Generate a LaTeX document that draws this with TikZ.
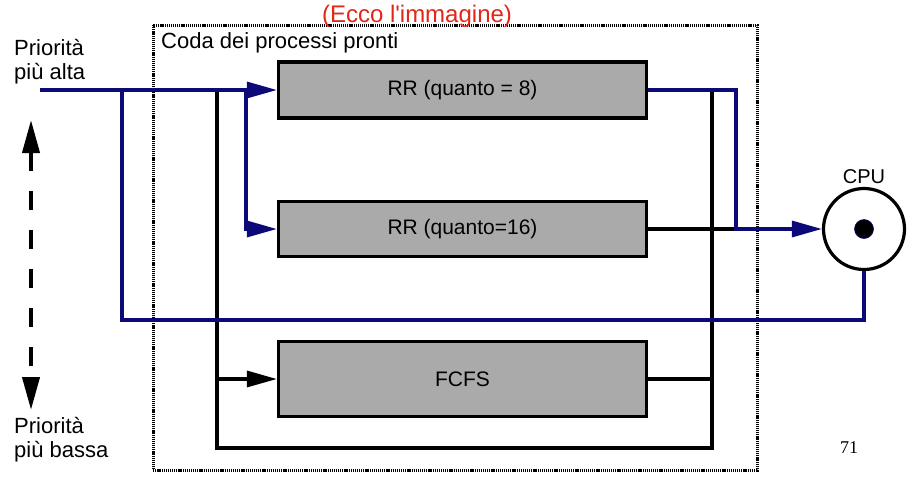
\documentclass[tikz,border=0pt]{standalone}
\usepackage{fontspec}
\setmainfont{Liberation Serif}
\setsansfont{Liberation Sans}
\usetikzlibrary{arrows.meta}

\definecolor{linkblue}{RGB}{12,10,120}
\definecolor{notered}{RGB}{226,38,24}
\definecolor{boxgray}{RGB}{170,170,170}

\begin{document}
\begin{tikzpicture}[
    x=1pt, y=-1pt,
    every node/.style={font=\sffamily\fontsize{22}{24}\selectfont},
    queue/.style={rectangle, draw, line width=3.2pt, fill=boxgray, minimum width=368pt, inner sep=0pt, font=\sffamily\fontsize{21}{24}\selectfont},
    link/.style={line width=3.2pt, draw=linkblue},
    wire/.style={line width=3.2pt, draw=black},
    feed/.style={-{Triangle[length=30pt, width=16pt]}}
]

\useasboundingbox (0,0) rectangle (908,483);

% Draw the dotted frame
\draw[line width=3pt, dash pattern=on 1.2pt off 0.9pt] (153,25) rectangle (757,470);
\node[anchor=base west, inner sep=0pt] (title) at (161,48) {Coda dei processi pronti};
\node[anchor=base, inner sep=0pt, text=notered, font=\sffamily\fontsize{24}{26}\selectfont] (note) at (417,22) {(Ecco l\textquotesingle immagine)};

% Queues and the CPU
\node[queue, minimum height=56pt] (rr8) at (462.5,90) {RR (quanto = 8)};
\node[queue, minimum height=55pt] (rr16) at (462.5,229) {RR (quanto=16)};
\node[queue, minimum height=75pt] (fcfs) at (462.5,379) {FCFS};

\node[circle, draw, line width=3.2pt, minimum size=81pt, inner sep=0pt,
      label={[font=\sffamily\fontsize{20}{22}\selectfont]above:CPU}] (cpu) at (864,229) {};
\node[circle, fill=black, draw=linkblue, line width=0.6pt, minimum size=19pt, inner sep=0pt] (core) at (cpu) {};

% Priority labels
\node[anchor=west, inner sep=0pt, align=left] (high) at (14,62) {Priorità\\più alta};
\node[anchor=west, inner sep=0pt, align=left] (low) at (14,440) {Priorità\\più bassa};
\node[anchor=base, font=\rmfamily\fontsize{18}{20}\selectfont] (page) at (849,453) {71};

% Points on the lines
\coordinate (in) at (40,90);
\coordinate (back) at (122,90);
\coordinate (under) at (122,320);
\coordinate (down) at (246,90);
\coordinate (merge) at (736,90);
\coordinate (top) at (217,90);
\coordinate (bl) at (217,448);
\coordinate (br) at (712,448);
\coordinate (tr) at (712,90);
\coordinate (hi) at (31,120);
\coordinate (lo) at (31,410);

% Black lines
\draw[wire] (top) -- (bl) -- (br) -- (tr);
\draw[wire, feed] (top |- fcfs) -- (fcfs.west);
\draw[wire] (fcfs.east) -- (fcfs -| br);
\draw[wire] (rr16.east) -- (merge |- rr16);

% Blue lines
\draw[link, feed] (in) -- (rr8.west);
\draw[link, feed] (down) |- (rr16.west);
\draw[link] (back) -- (under) -| (cpu.south);
\draw[link, feed] (rr8.east) -| (merge |- cpu) -- (cpu.west);

% Dashed priority arrow
\draw[line width=4pt, dash pattern=on 19pt off 20pt,
      {Triangle[length=33pt, width=17pt]}-{Triangle[length=33pt, width=17pt]}] (hi) -- (lo);

\end{tikzpicture}
\end{document}
